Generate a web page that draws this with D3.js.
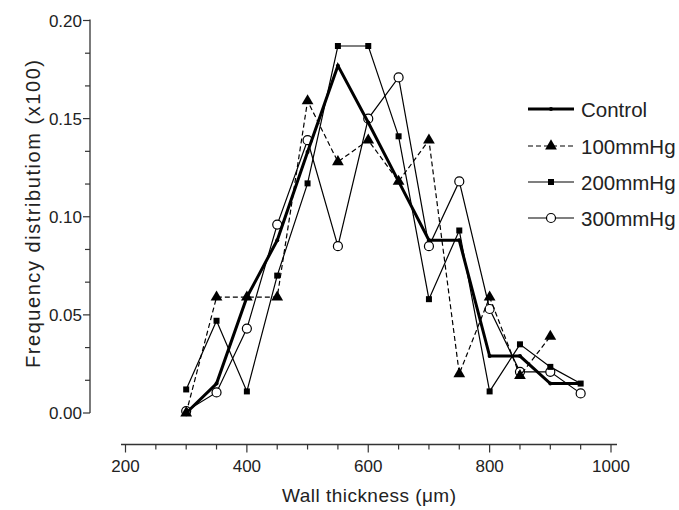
<!DOCTYPE html>
<html><head><meta charset="utf-8">
<script src="https://cdn.jsdelivr.net/npm/d3@7"></script>
<style>body{margin:0;background:#fff}svg{display:block}text{font-family:"Liberation Sans",Arial,sans-serif;fill:#222}</style>
</head><body><svg id="c" width="679" height="510"></svg>
<script>
const thickness = [300,350,400,450,500,550,600,650,700,750,800,850,900,950];
const control = [0,0.015,0.059,0.088,0.133,0.177,0.148,0.118,0.088,0.088,0.029,0.029,0.015,0.015];
const mm100 = [0,0.059,0.059,0.059,0.159,0.128,0.139,0.118,0.139,0.020,0.059,0.019,0.039];
const mm200 = [0.012,0.047,0.011,0.070,0.117,0.187,0.187,0.141,0.058,0.093,0.011,0.035,0.0235,0.015];
const mm300 = [0.001,0.0105,0.043,0.096,0.139,0.085,0.150,0.171,0.085,0.118,0.053,0.021,0.021,0.010];
const xTickLabels = [200,400,600,800,1000];
const yTickLabels = [0.00,0.05,0.10,0.15,0.20];
const seriesNames = ["Control","100mmHg","200mmHg","300mmHg"];

const svg = d3.select("#c");
const x = d3.scaleLinear().domain([200,1000]).range([125.5,611]);
const y = d3.scaleLinear().domain([0,0.2]).range([413,20.5]);
const axisColor = "#333";

// X axis
const xAxisY = 444.5;
const gx = svg.append("g");
gx.append("line").attr("x1",121).attr("x2",617).attr("y1",xAxisY).attr("y2",xAxisY).attr("stroke",axisColor).attr("stroke-width",1.3);
d3.range(200,1001,50).forEach(v=>{
  const major = xTickLabels.includes(v);
  gx.append("line").attr("x1",x(v)).attr("x2",x(v)).attr("y1",xAxisY).attr("y2",xAxisY+(major?8:5)).attr("stroke",axisColor).attr("stroke-width",1.2);
});
xTickLabels.forEach(v=>{
  gx.append("text").attr("x",x(v)).attr("y",xAxisY+27).attr("text-anchor","middle").attr("font-size",17).text(v);
});
svg.append("text").attr("x",369).attr("y",502).attr("text-anchor","middle").attr("font-size",19)
  .attr("textLength",174).attr("lengthAdjust","spacing").text("Wall thickness (\u03bcm)");

// Y axis
const yAxisX = 90;
const gy = svg.append("g");
gy.append("line").attr("x1",yAxisX).attr("x2",yAxisX).attr("y1",y(0.2)-1).attr("y2",y(0)).attr("stroke",axisColor).attr("stroke-width",1.3);
for(let i=0;i<=12;i++){
  const v = i*0.05/3;
  const major = i%3===0;
  gy.append("line").attr("x1",yAxisX).attr("x2",yAxisX-(major?7:5)).attr("y1",y(v)).attr("y2",y(v)).attr("stroke",axisColor).attr("stroke-width",1.2);
}
yTickLabels.forEach(v=>{
  gy.append("text").attr("x",yAxisX-8).attr("y",y(v)+6).attr("text-anchor","end").attr("font-size",17).text(v.toFixed(2));
});
svg.append("text").attr("transform","translate(40,214) rotate(-90)").attr("text-anchor","middle").attr("font-size",20)
  .attr("textLength",308).attr("lengthAdjust","spacing").text("Frequency distributiom (x100)");

// Series
const series = [
  {name:seriesNames[0], vals:control, w:3, dash:null, marker:"dot"},
  {name:seriesNames[1], vals:mm100, w:1.2, dash:"5,3", marker:"tri"},
  {name:seriesNames[2], vals:mm200, w:1.2, dash:null, marker:"sq"},
  {name:seriesNames[3], vals:mm300, w:1.2, dash:null, marker:"circ"}
];
const line = d3.line().x(d=>x(d[0])).y(d=>y(d[1]));
function drawMarker(g, type, cx, cy){
  if(type==="dot") g.append("circle").attr("cx",cx).attr("cy",cy).attr("r",2).attr("fill","#000");
  else if(type==="tri") g.append("path").attr("d",d3.symbol(d3.symbolTriangle,60)()).attr("transform",`translate(${cx},${cy})`).attr("fill","#000");
  else if(type==="sq") g.append("rect").attr("x",cx-3).attr("y",cy-3).attr("width",6).attr("height",6).attr("fill","#000");
  else if(type==="circ") g.append("circle").attr("cx",cx).attr("cy",cy).attr("r",4.5).attr("fill","#fff").attr("stroke","#000").attr("stroke-width",1.2);
}
[3,2,1,0].forEach(i=>{
  const s = series[i];
  const pts = s.vals.map((v,j)=>[thickness[j],v]);
  const g = svg.append("g");
  g.append("path").attr("d",line(pts)).attr("fill","none").attr("stroke","#000").attr("stroke-width",s.w).attr("stroke-dasharray",s.dash).attr("stroke-linejoin","miter");
  pts.forEach(p=>drawMarker(g,s.marker,x(p[0]),y(p[1])));
});

// Legend
const legY = [109,146,182,218];
series.forEach((s,i)=>{
  const g = svg.append("g");
  g.append("line").attr("x1",528).attr("x2",574).attr("y1",legY[i]).attr("y2",legY[i]).attr("stroke","#000").attr("stroke-width",s.w).attr("stroke-dasharray",s.dash);
  drawMarker(g,s.marker,551,legY[i]);
  g.append("text").attr("x",581).attr("y",legY[i]+7.5).attr("font-size",20.5).text(s.name);
});
</script></body></html>
